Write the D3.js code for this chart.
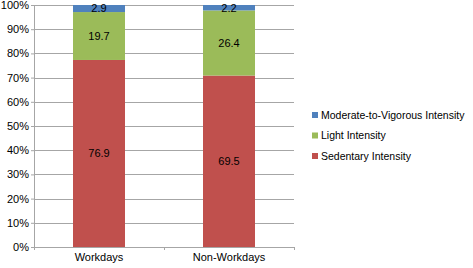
<!DOCTYPE html>
<html>
<head>
<meta charset="utf-8">
<script src="https://cdn.jsdelivr.net/npm/d3@7"></script>
<style>
  body { margin: 0; background: #fff; }
  text { font-family: "Liberation Sans", Arial, sans-serif; }
</style>
</head>
<body>
<div id="chart-area"></div>
<script>
var categories = ["Workdays", "Non-Workdays"];
var seriesNames = ["Sedentary Intensity", "Light Intensity", "Moderate-to-Vigorous Intensity"];
var sedentary = [76.9, 69.5];
var light = [19.7, 26.4];
var moderate = [2.9, 2.2];
var yTicks = [0, 10, 20, 30, 40, 50, 60, 70, 80, 90, 100];
var colors = ["#c0504d", "#9bbb59", "#4f81bd"];

var width = 473, height = 268;
var margin = { top: 5, right: 179, bottom: 21, left: 34 };
var plotW = width - margin.left - margin.right;
var plotH = height - margin.top - margin.bottom;

var svg = d3.select("#chart-area")
  .append("svg")
  .attr("width", width)
  .attr("height", height);

var g = svg.append("g")
  .attr("transform", "translate(" + margin.left + ", " + margin.top + ")");

var x = d3.scaleBand()
  .domain(categories)
  .range([0, plotW])
  .paddingInner(0.6)
  .paddingOuter(0.3);

// 100% stacked: values are shares of each bar's total
var y = d3.scaleLinear()
  .domain([0, 100])
  .range([plotH, 0]);

// gridlines
g.selectAll(".grid")
  .data(yTicks.filter(d => d > 0))
  .enter().append("line")
  .attr("x1", 0)
  .attr("x2", plotW)
  .attr("y1", d => Math.round(y(d)) + 0.5)
  .attr("y2", d => Math.round(y(d)) + 0.5)
  .attr("stroke", "#a6a6a6")
  .attr("stroke-width", 1);

var table = categories.map((c, i) => ({
  cat: c,
  "Sedentary Intensity": sedentary[i],
  "Light Intensity": light[i],
  "Moderate-to-Vigorous Intensity": moderate[i]
}));
var stacked = d3.stack().keys(seriesNames).offset(d3.stackOffsetExpand)(table);

var layers = g.selectAll(".layer")
  .data(stacked)
  .enter().append("g")
  .attr("fill", (d, i) => colors[i]);

layers.selectAll("rect")
  .data(d => d.map(p => Object.assign(p, { key: d.key })))
  .enter().append("rect")
  .attr("x", d => x(d.data.cat))
  .attr("y", d => y(d[1] * 100))
  .attr("width", x.bandwidth())
  .attr("height", d => y(d[0] * 100) - y(d[1] * 100));

layers.selectAll("text")
  .data(d => d)
  .enter().append("text")
  .attr("x", d => x(d.data.cat) + x.bandwidth() / 2)
  .attr("y", d => (y(d[0] * 100) + y(d[1] * 100)) / 2)
  .attr("dy", "0.35em")
  .attr("text-anchor", "middle")
  .attr("font-size", "11px")
  .style("fill", "#000")
  .text(d => d.data[d.key].toFixed(1));

// y axis
var yAxisG = g.append("g")
  .call(d3.axisLeft(y).tickValues(yTicks).tickSize(3).tickFormat(d => d + "%"));
yAxisG.selectAll("text").attr("font-size", "11px").style("fill", "#000").attr("x", -5);
yAxisG.selectAll(".domain, .tick line").attr("stroke", "#a6a6a6");
yAxisG.select(".domain").attr("d", "M0.5," + plotH + "V0");

// x axis
var xAxisG = g.append("g")
  .attr("transform", "translate(0, " + plotH + ")")
  .call(d3.axisBottom(x).tickSize(0).tickPadding(6));
xAxisG.selectAll("text").attr("font-size", "11px").style("fill", "#000");
xAxisG.select(".domain").attr("stroke", "#a6a6a6").attr("d", "M0,0.5H" + plotW);
[0, plotW / 2, plotW].forEach(function (t) {
  xAxisG.append("line")
    .attr("x1", Math.round(t) + 0.5).attr("x2", Math.round(t) + 0.5)
    .attr("y1", 0).attr("y2", 3)
    .attr("stroke", "#a6a6a6");
});

// legend
var legend = svg.append("g")
  .attr("transform", "translate(312, 112)");
var legendItems = seriesNames.slice().reverse();
legendItems.forEach(function (name, i) {
  var row = legend.append("g").attr("transform", "translate(0, " + i * 20.5 + ")");
  row.append("rect")
    .attr("width", 6).attr("height", 6)
    .attr("fill", colors[seriesNames.indexOf(name)]);
  row.append("text")
    .attr("x", 9).attr("y", 3).attr("dy", "0.35em")
    .attr("font-size", "10.5px")
    .style("fill", "#000")
    .text(name);
});
</script>
</body>
</html>
